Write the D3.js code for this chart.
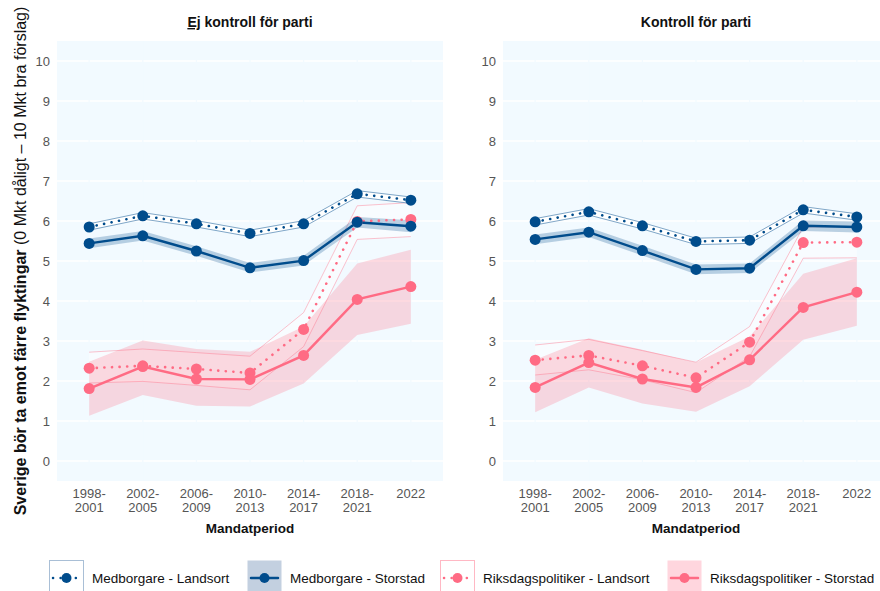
<!DOCTYPE html>
<html>
<head>
<meta charset="utf-8">
<script src="https://cdn.jsdelivr.net/npm/d3@7"></script>
<style>
  body { margin: 0; background: #fff; }
  text { font-family: "Liberation Sans", Arial, sans-serif; }
</style>
</head>
<body>
<div id="chart"></div>
<script>
// categories and tick labels
var periods = ["1998-2001", "2002-2005", "2006-2009", "2010-2013", "2014-2017", "2018-2021", "2022"];
var yTicks = [0, 1, 2, 3, 4, 5, 6, 7, 8, 9, 10];

// Ej kontroll för parti
var medLandA    = [5.85, 6.13, 5.93, 5.69, 5.93, 6.68, 6.52];
var medLandA_lo = [5.77, 6.05, 5.85, 5.61, 5.85, 6.60, 6.44];
var medLandA_hi = [5.93, 6.21, 6.01, 5.77, 6.01, 6.76, 6.60];
var medStorA    = [5.44, 5.63, 5.25, 4.83, 5.01, 5.97, 5.87];
var medStorA_lo = [5.32, 5.51, 5.13, 4.71, 4.89, 5.84, 5.72];
var medStorA_hi = [5.56, 5.75, 5.37, 4.95, 5.13, 6.10, 6.02];
var rdLandA     = [2.32, 2.38, 2.30, 2.20, 3.29, 5.99, 6.04];
var rdLandA_lo  = [1.95, 1.99, 1.89, 1.78, 2.86, 5.54, 5.61];
var rdLandA_hi  = [2.72, 2.80, 2.71, 2.62, 3.71, 6.38, 6.46];
var rdStorA     = [1.81, 2.36, 2.05, 2.04, 2.64, 4.04, 4.36];
var rdStorA_lo  = [1.13, 1.65, 1.38, 1.36, 1.94, 3.15, 3.43];
var rdStorA_hi  = [2.48, 3.01, 2.80, 2.73, 3.36, 4.94, 5.28];

// Kontroll för parti
var medLandB    = [5.98, 6.23, 5.88, 5.49, 5.52, 6.28, 6.10];
var medLandB_lo = [5.90, 6.15, 5.80, 5.41, 5.44, 6.20, 6.02];
var medLandB_hi = [6.06, 6.31, 5.96, 5.57, 5.60, 6.36, 6.18];
var medStorB    = [5.54, 5.72, 5.26, 4.79, 4.82, 5.88, 5.85];
var medStorB_lo = [5.42, 5.60, 5.14, 4.67, 4.70, 5.75, 5.71];
var medStorB_hi = [5.66, 5.84, 5.38, 4.91, 4.94, 6.01, 5.99];
var rdLandB     = [2.52, 2.64, 2.38, 2.08, 2.97, 5.46, 5.47];
var rdLandB_lo  = [2.15, 2.28, 2.03, 1.71, 2.61, 5.07, 5.08];
var rdLandB_hi  = [2.90, 3.04, 2.76, 2.47, 3.36, 5.85, 5.86];
var rdStorB     = [1.84, 2.46, 2.05, 1.84, 2.53, 3.84, 4.22];
var rdStorB_lo  = [1.22, 1.84, 1.44, 1.23, 1.87, 3.03, 3.38];
var rdStorB_hi  = [2.53, 3.07, 2.78, 2.46, 3.11, 4.68, 5.07];

var seriesNames = ["Medborgare - Landsort", "Medborgare - Storstad", "Riksdagspolitiker - Landsort", "Riksdagspolitiker - Storstad"];

var blue = "#004c8c", pink = "#ff6b84";

function makeSeries(ml, mll, mlh, ms, msl, msh, rl, rll, rlh, rs, rsl, rsh) {
  return [
    { name: seriesNames[2], color: pink, land: true,  v: rl, lo: rll, hi: rlh },
    { name: seriesNames[3], color: pink, land: false, v: rs, lo: rsl, hi: rsh },
    { name: seriesNames[0], color: blue, land: true,  v: ml, lo: mll, hi: mlh },
    { name: seriesNames[1], color: blue, land: false, v: ms, lo: msl, hi: msh }
  ];
}

var panels = [
  { title: "kontroll för parti", underline: "Ej", left: 57,
    series: makeSeries(medLandA, medLandA_lo, medLandA_hi, medStorA, medStorA_lo, medStorA_hi,
                       rdLandA, rdLandA_lo, rdLandA_hi, rdStorA, rdStorA_lo, rdStorA_hi) },
  { title: "Kontroll för parti", underline: null, left: 503,
    series: makeSeries(medLandB, medLandB_lo, medLandB_hi, medStorB, medStorB_lo, medStorB_hi,
                       rdLandB, rdLandB_lo, rdLandB_hi, rdStorB, rdStorB_lo, rdStorB_hi) }
];

var svgWidth = 880, svgHeight = 591;
var panelWidth = 386, panelTop = 41, panelHeight = 440;

var svg = d3.select("#chart").append("svg")
  .attr("width", svgWidth)
  .attr("height", svgHeight);

var y = d3.scaleLinear().domain([-0.5, 10.5]).range([panelHeight, 0]);

panels.forEach(function(p) {
  var x = d3.scalePoint().domain(periods).range([0, panelWidth]).padding(0.6);

  var g = svg.append("g")
    .attr("transform", `translate(${p.left}, ${panelTop})`);

  g.append("rect")
    .attr("width", panelWidth)
    .attr("height", panelHeight)
    .attr("fill", "#f2faff");

  // horizontal grid
  g.selectAll(".hgrid")
    .data(yTicks)
    .enter()
    .append("line")
    .attr("x1", 0).attr("x2", panelWidth)
    .attr("y1", d => y(d)).attr("y2", d => y(d))
    .attr("stroke", "#ffffff")
    .attr("stroke-width", 1.3);

  // vertical grid in panel colour
  g.selectAll(".vgrid")
    .data(periods)
    .enter()
    .append("line")
    .attr("x1", d => x(d)).attr("x2", d => x(d))
    .attr("y1", 0).attr("y2", panelHeight)
    .attr("stroke", "#f2faff")
    .attr("stroke-width", 1.3);

  var area = d3.area()
    .x((d, i) => x(periods[i]))
    .y0(d => y(d[0]))
    .y1(d => y(d[1]));

  var line = d3.line()
    .x((d, i) => x(periods[i]))
    .y(d => y(d));

  // ribbons
  p.series.forEach(function(s) {
    var band = s.lo.map((d, i) => [d, s.hi[i]]);
    if (s.land) {
      g.append("path")
        .datum(band)
        .attr("d", area)
        .attr("fill", "#ffffff")
        .attr("fill-opacity", s.color === blue ? 0.9 : 0.45);
      [s.lo, s.hi].forEach(function(b) {
        g.append("path")
          .datum(b)
          .attr("d", line)
          .attr("fill", "none")
          .attr("stroke", s.color)
          .attr("stroke-opacity", s.color === blue ? 0.55 : 0.45)
          .attr("stroke-width", 0.9);
      });
    } else {
      g.append("path")
        .datum(band)
        .attr("d", area)
        .attr("fill", s.color)
        .attr("fill-opacity", 0.25);
    }
  });

  // lines
  p.series.forEach(function(s) {
    g.append("path")
      .datum(s.v)
      .attr("d", line)
      .attr("fill", "none")
      .attr("stroke", s.color)
      .attr("stroke-width", s.land ? 2.6 : 2.4)
      .attr("stroke-linecap", "round")
      .attr("stroke-dasharray", s.land ? "0.1 7.5" : null);
  });

  // points
  p.series.forEach(function(s) {
    g.selectAll(null)
      .data(s.v)
      .enter()
      .append("circle")
      .attr("cx", (d, i) => x(periods[i]))
      .attr("cy", d => y(d))
      .attr("r", 5.5)
      .attr("fill", s.color);
  });

  // y tick labels
  g.selectAll(".ytick")
    .data(yTicks)
    .enter()
    .append("text")
    .attr("x", -7)
    .attr("y", d => y(d))
    .attr("dy", "0.35em")
    .attr("text-anchor", "end")
    .attr("font-size", "13px")
    .attr("fill", "#555555")
    .text(d => d);

  // x tick labels, split in two lines
  var xt = g.selectAll(".xtick")
    .data(periods)
    .enter()
    .append("text")
    .attr("text-anchor", "middle")
    .attr("font-size", "13px")
    .attr("fill", "#555555");
  xt.append("tspan")
    .attr("x", d => x(d))
    .attr("y", panelHeight + 17)
    .text(d => d.indexOf("-") > 0 ? d.split("-")[0] + "-" : d);
  xt.append("tspan")
    .attr("x", d => x(d))
    .attr("y", panelHeight + 31)
    .text(d => d.indexOf("-") > 0 ? d.split("-")[1] : "");

  // x axis title
  g.append("text")
    .attr("x", panelWidth / 2)
    .attr("y", panelHeight + 52)
    .attr("text-anchor", "middle")
    .attr("font-size", "13.5px")
    .attr("font-weight", "bold")
    .attr("fill", "#111")
    .text("Mandatperiod");

  // panel title
  var t = g.append("text")
    .attr("x", panelWidth / 2)
    .attr("y", -14)
    .attr("text-anchor", "middle")
    .attr("font-size", "14px")
    .attr("font-weight", "bold")
    .attr("fill", "#111");
  if (p.underline) {
    t.append("tspan").attr("text-decoration", "underline").text(p.underline);
    t.append("tspan").text(" " + p.title);
  } else {
    t.text(p.title);
  }
});

// y axis title
var yt = svg.append("text")
  .attr("transform", `translate(26, ${panelTop + panelHeight / 2}) rotate(-90)`)
  .attr("text-anchor", "middle")
  .attr("font-size", "16px")
  .attr("fill", "#111");
yt.append("tspan").attr("font-weight", "bold").text("Sverige bör ta emot färre flyktingar ");
yt.append("tspan").text("(0 Mkt dåligt – 10 Mkt bra förslag)");

// legend
var legendX = [49, 247, 440, 667];
var legend = svg.selectAll(".legend")
  .data(seriesNames)
  .enter()
  .append("g")
  .attr("transform", (d, i) => `translate(${legendX[i]}, 560)`);

legend.append("rect")
  .attr("x", 0.5).attr("y", 0.5)
  .attr("width", 34).attr("height", 34)
  .attr("fill", (d, i) => i === 1 ? "#c3d0e0" : i === 3 ? "#ffd6de" : "#ffffff")
  .attr("stroke", (d, i) => i === 0 ? "#a9bfd6" : i === 2 ? "#ffb8c4" : "none")
  .attr("stroke-width", 1);

legend.append("line")
  .attr("x1", 4).attr("x2", 31)
  .attr("y1", 18).attr("y2", 18)
  .attr("stroke", (d, i) => i < 2 ? blue : pink)
  .attr("stroke-width", 2.5)
  .attr("stroke-linecap", "round")
  .attr("stroke-dasharray", (d, i) => i % 2 === 0 ? "0.1 7.5" : null);

legend.append("circle")
  .attr("cx", 17.5).attr("cy", 18)
  .attr("r", 5)
  .attr("fill", (d, i) => i < 2 ? blue : pink);

legend.append("text")
  .attr("x", 43)
  .attr("y", 18)
  .attr("dy", "0.35em")
  .attr("font-size", "13.5px")
  .attr("fill", "#111")
  .text(d => d);
</script>
</body>
</html>
